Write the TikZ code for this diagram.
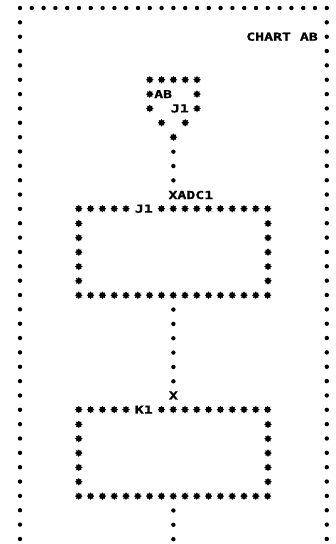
\documentclass[tikz,border=0pt]{standalone}
\usepackage{fontspec}
\newfontfamily\lpfont[FakeStretch=1.35, FakeBold=1.2]{DejaVu Sans Mono}
\usetikzlibrary{shapes.geometric}

\begin{document}
\begin{tikzpicture}[
    x=1pt, y=-1pt,
    ast/.style={star, star points=8, star point ratio=1.5, fill=black, inner sep=0pt, minimum size=7.6pt},
    dot/.style={circle, fill=black, inner sep=0pt, minimum size=4.4pt},
    dotline/.style={line width=4.4pt, line cap=round, dash pattern=on 0pt off 14.35pt},
    lbl/.style={font=\lpfont\bfseries\fontsize{11}{11}\selectfont, inner sep=0pt},
    frame/.style={draw=none, inner sep=0pt, minimum width=188.8pt, minimum height=86.1pt}
]
\useasboundingbox (0,0) rectangle (336,544);

% page frame
\foreach \i in {0,...,26} \node[dot] at (20+\i*11.8, 8) {};
\foreach \j in {1,...,37} {
  \node[dot] at (20, 8+\j*14.35) {};
  \node[dot] at (326.8, 8+\j*14.35) {};
}
\node[lbl, anchor=east] (title) at (318, 36.7) {CHART AB};

% entry connector
\node[frame, minimum width=47.2pt, minimum height=57.4pt] (conn) at (173.4, 108.45) {};
\foreach \c/\r in {11/5,12/5,13/5,14/5,15/5,11/6,15/6,11/7,15/7,12/8,14/8,13/9}
  \node[ast] at (20+\c*11.8, 8+\r*14.35) {};
\node[lbl, anchor=west] (connab) at (154, 94.1) {AB};
\node[lbl, anchor=east] (connj) at (189, 108.45) {J1};

% process boxes
\node[frame] (box1) at (173.4, 251.95) {};
\node[frame] (box2) at (173.4, 452.85) {};
\foreach \b in {box1, box2} {
  \foreach \k in {0,...,16} \node[ast] at ([xshift=\k*11.8pt]\b.south west) {};
  \foreach \k in {0,1,2,3,4,7,8,9,10,11,12,13,14,15,16} \node[ast] at ([xshift=\k*11.8pt]\b.north west) {};
  \foreach \k in {1,...,5} {
    \node[ast] at ([yshift=\k*14.35pt]\b.south west) {};
    \node[ast] at ([yshift=\k*14.35pt]\b.south east) {};
  }
}
\node[lbl] (boxj) at ([xshift=65pt]box1.north west) {J1};
\node[lbl] (boxk) at ([xshift=65pt]box2.north west) {K1};
\node[lbl, anchor=west] (xadc) at (168.3, 195) {XADC1};
\node[lbl] (xlab) at (173.4, 395.45) {X};
\coordinate (end) at (173.4, 541.5);

% flow lines
\draw[dotline] (conn.south) -- (conn.south |- xadc.north);
\draw[dotline] (box1.south) -- (box1.south |- xlab.north);
\draw[dotline] (box2.south) -- (end);

\end{tikzpicture}
\end{document}
